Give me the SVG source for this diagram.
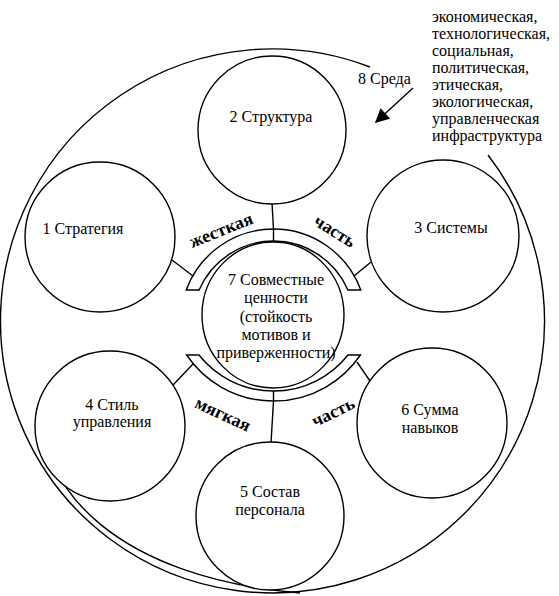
<svg xmlns="http://www.w3.org/2000/svg" width="559" height="596" viewBox="0 0 559 596">
<style>
.ln{fill:none;stroke:#000;stroke-width:1.4}
.nd{fill:#fff;stroke:#000;stroke-width:1.4}
.t{font-family:'Liberation Serif','DejaVu Serif','Times New Roman',serif;font-size:16px;fill:#000;text-anchor:middle}
.l{font-family:'Liberation Serif','DejaVu Serif','Times New Roman',serif;font-size:16px;fill:#000}
.b{font-family:'Liberation Serif','DejaVu Serif','Times New Roman',serif;font-size:18px;font-weight:900;fill:#000;text-anchor:middle;dominant-baseline:central}
</style>
<defs>
<marker id="ah" viewBox="0 0 10 10" refX="9" refY="5" markerWidth="16" markerHeight="14" markerUnits="userSpaceOnUse" orient="auto">
<path d="M0,0 L10,5 L0,10 Z" fill="#000"/>
</marker>
</defs>
<g id="environment">
<path class="ln" d="M370 67 A272 272 0 1 0 488 155"/>
<path class="ln" d="M42 398 C34 490 120 578 300 593"/>
<text class="l" x="358" y="84">8 Среда</text>
<line class="ln" x1="413" y1="88" x2="376" y2="122" marker-end="url(#ah)"/>
<text class="l" x="432" y="22">экономическая,</text>
<text class="l" x="432" y="39">технологическая,</text>
<text class="l" x="432" y="56">социальная,</text>
<text class="l" x="432" y="73">политическая,</text>
<text class="l" x="432" y="90">этическая,</text>
<text class="l" x="432" y="107">экологическая,</text>
<text class="l" x="432" y="124">управленческая</text>
<text class="l" x="432" y="141">инфраструктура</text>
</g>
<g id="connectors">
<line class="ln" x1="272" y1="203" x2="273.5" y2="229"/>
<line class="ln" x1="273.5" y1="229" x2="273.5" y2="241"/>
<line class="ln" x1="271" y1="443" x2="273.5" y2="401"/>
<line class="ln" x1="273.5" y1="391" x2="273.5" y2="401"/>
<line class="ln" x1="172" y1="260" x2="193" y2="276"/>
<line class="ln" x1="371" y1="262" x2="354" y2="276"/>
<line class="ln" x1="173" y1="385" x2="193" y2="364"/>
<line class="ln" x1="370" y1="381" x2="357" y2="362"/>
</g>
<g id="bands">
<path class="ln" d="M186.2 290 A93 93 0 0 1 360.8 290 L347.9 290 A81 81 0 0 0 199.1 290 Z"/>
<path class="ln" d="M186.6 355 A105 105 0 0 0 360.4 355 L348 355 A95 95 0 0 1 199 355 Z"/>
<text class="b" transform="translate(221 230) rotate(-22)">жесткая</text>
<text class="b" transform="translate(335 231) rotate(32)">часть</text>
<text class="b" transform="translate(223 414) rotate(25)">мягкая</text>
<text class="b" transform="translate(333 412) rotate(-26)">часть</text>
</g>
<g id="n1">
<circle class="nd" cx="100" cy="237" r="75"/>
<text class="t" x="83" y="234">1 Стратегия</text>
</g>
<g id="n2">
<circle class="nd" cx="272" cy="130" r="74"/>
<text class="t" x="271" y="122">2 Структура</text>
</g>
<g id="n3">
<circle class="nd" cx="443" cy="236" r="76"/>
<text class="t" x="451" y="233">3 Системы</text>
</g>
<g id="n4">
<circle class="nd" cx="110" cy="426" r="75"/>
<text class="t" x="112" y="410">4 Стиль</text>
<text class="t" x="112" y="427">управления</text>
</g>
<g id="n5">
<circle class="nd" cx="270" cy="516" r="74"/>
<text class="t" x="270" y="497">5 Состав</text>
<text class="t" x="270" y="515">персонала</text>
</g>
<g id="n6">
<circle class="nd" cx="432" cy="423" r="75"/>
<text class="t" x="430" y="415">6 Сумма</text>
<text class="t" x="430" y="433">навыков</text>
</g>
<g id="n7">
<ellipse class="nd" cx="273" cy="315" rx="71" ry="73"/>
<text class="t" x="276" y="285">7 Совместные</text>
<text class="t" x="276" y="303">ценности</text>
<text class="t" x="276" y="322">(стойкость</text>
<text class="t" x="276" y="340">мотивов и</text>
<text class="t" x="276" y="358">приверженности)</text>
</g>
</svg>
